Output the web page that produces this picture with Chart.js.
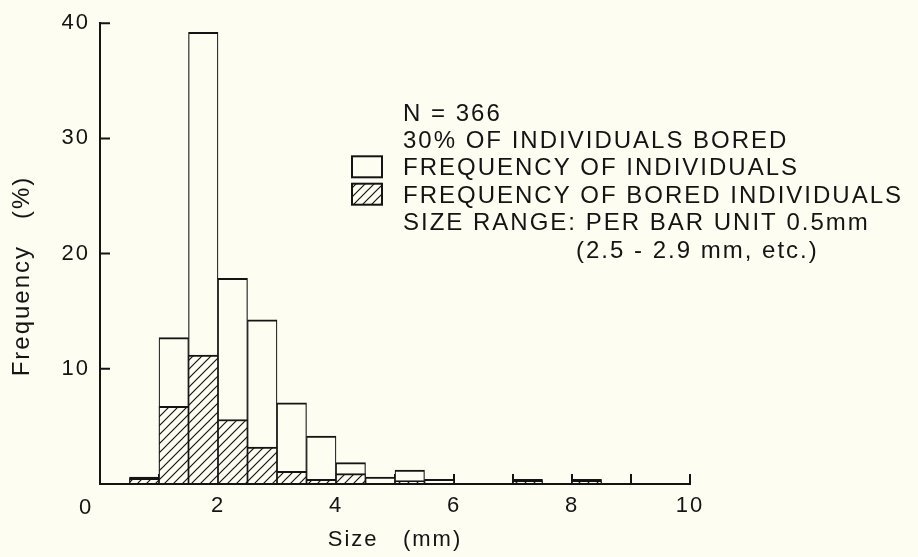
<!DOCTYPE html>
<html>
<head>
<meta charset="utf-8">
<title>Size frequency</title>
<script src="https://cdn.jsdelivr.net/npm/chart.js@4.4.1/dist/chart.umd.min.js"></script>
<style>
    html, body { margin: 0; padding: 0; background: #fefdf2; }
    #wrap { width: 918px; height: 557px; }
</style>
</head>
<body>
<div id="wrap"><canvas id="sizeChart" width="918" height="557"></canvas></div>
<script>

// 0.5 mm size classes from 0 to 10 mm
var binLabels = ['0.0-0.4', '0.5-0.9', '1.0-1.4', '1.5-1.9', '2.0-2.4', '2.5-2.9', '3.0-3.4', '3.5-3.9',
                 '4.0-4.4', '4.5-4.9', '5.0-5.4', '5.5-5.9', '6.0-6.4', '6.5-6.9', '7.0-7.4', '7.5-7.9',
                 '8.0-8.4', '8.5-8.9', '9.0-9.4', '9.5-9.9'];

// frequency (%) of all individuals per size class
var allFreq   = [null, 0.6, 12.7, 39.2, 17.85, 14.25, 7.05, 4.15, 1.85, 0.6, 1.2, 0.4,
                 null, null, 0.4, null, 0.4, null, null, null];

// frequency (%) of bored individuals per size class
var boredFreq = [null, 0.5, 6.75, 11.2, 5.6, 3.2, 1.1, 0.4, 0.9, null, 0.3, null,
                 null, null, 0.3, null, 0.3, null, null, null];

var xTickMarks = [1, 2, 3, 4, 5, 6, 7, 8, 9, 10];
var yTickMarks = [10, 20, 30, 40];

var noteTop    = ['N = 366', '30% OF INDIVIDUALS BORED'];
var noteBottom = ['SIZE RANGE: PER BAR UNIT 0.5mm', '(2.5 - 2.9 mm, etc.)'];

var yTitle = 'Frequency   (%)';

var ink = '#141414';
var paper = '#fefdf2';
var fontFamily = '"Liberation Sans", Arial, Helvetica, sans-serif';


function makeHatch() {
    var c = document.createElement('canvas');
    c.width = 9;
    c.height = 9;
    var g = c.getContext('2d');
    g.fillStyle = paper;
    g.fillRect(0, 0, 9, 9);
    g.strokeStyle = ink;
    g.lineWidth = 1.2;
    g.beginPath();
    g.moveTo(0, 9); g.lineTo(9, 0);
    g.moveTo(-1, 1); g.lineTo(1, -1);
    g.moveTo(8, 10); g.lineTo(10, 8);
    g.stroke();
    return g.createPattern(c, 'repeat');
}
var hatch = makeHatch();

// helvetica in the figure is set loose, so track all the text a bit
var tracking = {
    id: 'tracking',
    beforeUpdate: function (c) { c.ctx.letterSpacing = '2px'; },
    beforeDraw: function (c) { c.ctx.letterSpacing = '2px'; }
};

// ticks in the original point into the plot
var innerTicks = {
    id: 'innerTicks',
    beforeDatasetsDraw: function (c) {
        var ctx = c.ctx, xs = c.scales.x2, ys = c.scales.y;
        ctx.save();
        ctx.strokeStyle = ink;
        ctx.lineWidth = 2;
        ctx.beginPath();
        yTickMarks.forEach(function (v) {
            var py = ys.getPixelForValue(v);
            ctx.moveTo(xs.left, py);
            ctx.lineTo(xs.left + 10, py);
        });
        xTickMarks.forEach(function (v) {
            var px = xs.getPixelForValue(v);
            ctx.moveTo(px, ys.bottom);
            ctx.lineTo(px, ys.bottom - 10);
        });
        ctx.stroke();

        ctx.fillStyle = ink;
        ctx.letterSpacing = '2px';

        // shared origin label sits left of the corner
        ctx.font = '22px ' + fontFamily;
        ctx.textAlign = 'center';
        ctx.textBaseline = 'alphabetic';
        ctx.fillText('0', xs.getPixelForValue(0) - 14, ys.bottom + 30);

        // y title sits low on the axis in the original
        ctx.save();
        ctx.translate(22, 276);
        ctx.rotate(-Math.PI / 2);
        ctx.font = '24px ' + fontFamily;
        ctx.textBaseline = 'middle';
        ctx.fillText(yTitle, 0, 0);
        ctx.restore();

        ctx.restore();
    }
};

// text block + the two swatches
var notePlugin = {
    id: 'note',
    afterDraw: function (c) {
        var ctx = c.ctx;
        var x0 = 403, y0 = 112, dy = 27.4;
        ctx.save();
        ctx.font = '24px ' + fontFamily;
        ctx.letterSpacing = '2px';
        ctx.fillStyle = ink;
        ctx.textAlign = 'left';
        ctx.textBaseline = 'alphabetic';

        var rows = [];
        noteTop.forEach(function (t) { rows.push({text: t}); });
        rows.push({text: c.data.datasets[1].label, fill: c.data.datasets[1].backgroundColor});
        rows.push({text: c.data.datasets[0].label, fill: c.data.datasets[0].backgroundColor});
        noteBottom.forEach(function (t) { rows.push({text: t}); });

        rows.forEach(function (r, i) {
            var cy = y0 + dy * i;
            var tx = x0;
            if (i == rows.length - 1) tx = 576;
            if (r.fill) {
                ctx.fillStyle = r.fill;
                ctx.fillRect(352, cy - 10.5, 30, 21);
                ctx.strokeStyle = ink;
                ctx.lineWidth = 2;
                ctx.strokeRect(352, cy - 10.5, 30, 21);
                ctx.fillStyle = ink;
            }
            ctx.fillText(r.text, tx, cy + 8.6);
        });
        ctx.restore();
    }
};

var canvas = document.getElementById('sizeChart');
var ctx = canvas.getContext('2d');
var chart = new Chart(ctx, {
    type: 'bar',
    data: {
        labels: binLabels,
        datasets: [
            {
                label: 'FREQUENCY OF BORED INDIVIDUALS',
                data: boredFreq,
                backgroundColor: hatch,
                borderColor: ink,
                borderWidth: {top: 2, left: 1.2, right: 1.2, bottom: 0},
                order: 0
            },
            {
                label: 'FREQUENCY OF INDIVIDUALS',
                data: allFreq,
                backgroundColor: paper,
                borderColor: ink,
                borderWidth: {top: 2, left: 1.2, right: 1.2, bottom: 0},
                order: 1
            }]
    },
    options: {
        responsive: false,
        animation: false,
        devicePixelRatio: 1,
        layout: {
            padding: {left: 0, top: 12, right: 228, bottom: 0}
        },
        datasets: {
            bar: {barPercentage: 1, categoryPercentage: 1, grouped: false}
        },
        scales: {
            x: {
                type: 'category',
                display: false,
                offset: true
            },
            x2: {
                type: 'linear',
                position: 'bottom',
                offset: false,
                min: 0,
                max: 10,
                grid: {display: false, drawTicks: false, offset: false},
                border: {display: true, color: ink, width: 2, z: 1},
                ticks: {
                    stepSize: 2,
                    padding: 9,
                    color: ink,
                    font: {family: fontFamily, size: 22},
                    callback: function (v) { return v === 0 ? '' : v; }
                },
                title: {
                    display: true,
                    text: 'Size   (mm)',
                    color: ink,
                    font: {family: fontFamily, size: 22},
                    padding: {top: 0, bottom: 4}
                },
                afterFit: function (s) { s.height = 73; }
            },
            y: {
                min: 0,
                max: 40,
                grid: {display: false, drawTicks: false},
                border: {display: true, color: ink, width: 2, z: 1},
                ticks: {
                    stepSize: 10,
                    padding: 10,
                    color: ink,
                    font: {family: fontFamily, size: 22},
                    callback: function (v) { return v === 0 ? '' : v; }
                },
                title: {display: false},
                afterFit: function (s) { s.width = 100; }
            }
        },
        plugins: {
            legend: {display: false},
            tooltip: {enabled: false}
        }
    },
    plugins: [tracking, innerTicks, notePlugin]
});

</script>
</body>
</html>
